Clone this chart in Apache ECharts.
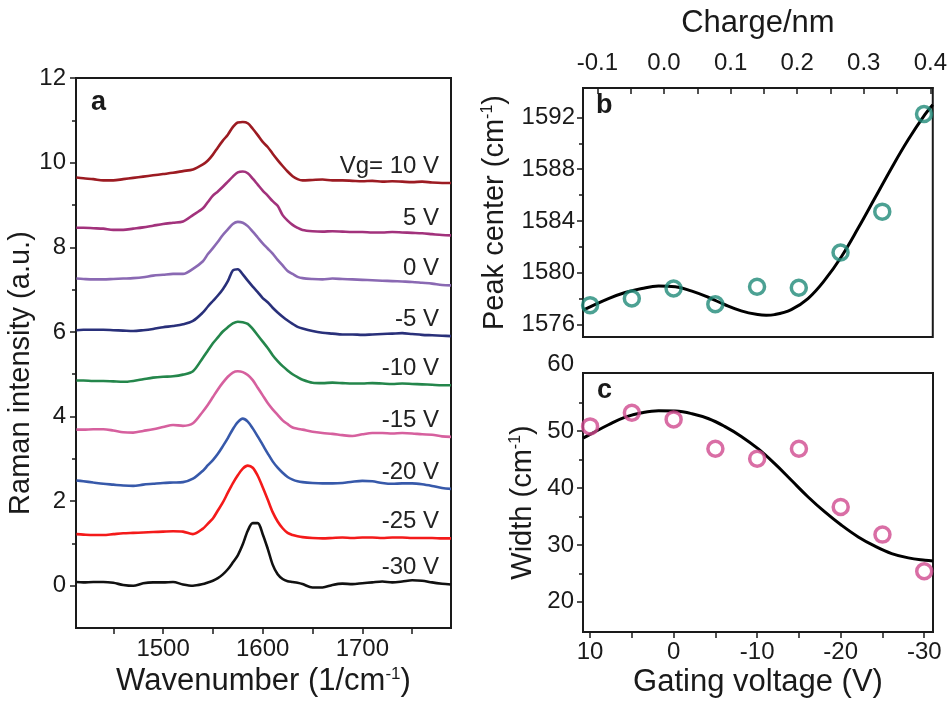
<!DOCTYPE html>
<html><head><meta charset="utf-8">
<script src="https://cdn.jsdelivr.net/npm/echarts@6/dist/echarts.min.js"></script>
<style>html,body{margin:0;padding:0;background:#fff}#main{width:950px;height:702px}</style>
</head><body><div id="main"></div>
<script>
// ---------- DATA ----------
const wavenumber = [1413,1420,1430,1440,1450,1460,1470,1480,1490,1500,1510,1520,1530,
  1540,1545,1550,1555,1560,1565,1570,1575,1580,1585,1590,1595,1600,1605,1610,1615,1620,1625,1630,1635,1640,
  1650,1660,1670,1680,1690,1700,1710,1720,1730,1740,1750,1760,1770,1780,1789];
const specP10 = [9.65,9.63,9.61,9.58,9.58,9.61,9.64,9.67,9.70,9.73,9.76,9.80,9.84,
  9.96,10.05,10.19,10.36,10.52,10.66,10.84,10.95,10.96,10.93,10.80,10.65,10.49,10.37,10.21,10.06,9.92,9.79,9.68,9.61,9.58,
  9.59,9.60,9.58,9.58,9.57,9.56,9.57,9.55,9.56,9.55,9.54,9.55,9.53,9.52,9.52];
const specP5 = [8.46,8.46,8.45,8.44,8.41,8.41,8.44,8.47,8.51,8.55,8.58,8.61,8.76,
  8.92,9.07,9.22,9.32,9.43,9.55,9.67,9.77,9.79,9.75,9.62,9.48,9.34,9.22,9.09,8.98,8.76,8.63,8.53,8.46,8.41,
  8.38,8.37,8.38,8.37,8.36,8.36,8.35,8.35,8.36,8.35,8.34,8.33,8.31,8.29,8.28];
const spec0 = [7.26,7.25,7.24,7.24,7.25,7.26,7.27,7.29,7.33,7.35,7.37,7.37,7.49,
  7.67,7.84,7.98,8.13,8.29,8.42,8.55,8.60,8.58,8.50,8.37,8.23,8.09,7.97,7.85,7.70,7.57,7.44,7.37,7.30,7.27,
  7.25,7.24,7.26,7.25,7.24,7.23,7.22,7.21,7.20,7.19,7.18,7.16,7.14,7.11,7.10];
const specM5 = [6.04,6.05,6.05,6.05,6.04,6.03,6.02,6.04,6.07,6.11,6.14,6.18,6.26,
  6.46,6.60,6.73,6.86,7.01,7.20,7.45,7.48,7.36,7.21,7.07,6.94,6.80,6.70,6.57,6.46,6.36,6.27,6.19,6.12,6.08,
  6.02,5.98,5.96,5.94,5.94,5.93,5.94,5.95,5.96,5.97,5.95,5.93,5.92,5.91,5.90];
const specM10 = [4.85,4.85,4.84,4.84,4.83,4.82,4.84,4.88,4.92,4.94,4.95,4.99,5.07,
  5.39,5.56,5.73,5.87,6.01,6.11,6.20,6.24,6.23,6.19,6.07,5.92,5.77,5.62,5.45,5.31,5.19,5.09,5.00,4.93,4.87,
  4.80,4.79,4.80,4.79,4.78,4.78,4.79,4.78,4.77,4.78,4.77,4.76,4.75,4.74,4.74];
const specM15 = [3.69,3.69,3.70,3.70,3.67,3.63,3.62,3.66,3.70,3.75,3.80,3.78,3.84,
  4.12,4.28,4.46,4.64,4.80,4.94,5.04,5.07,5.05,4.98,4.86,4.68,4.50,4.32,4.17,4.04,3.91,3.82,3.74,3.71,3.69,
  3.64,3.61,3.59,3.56,3.54,3.58,3.61,3.61,3.60,3.61,3.60,3.58,3.57,3.53,3.52];
const specM20 = [2.49,2.47,2.44,2.41,2.39,2.37,2.36,2.39,2.41,2.43,2.44,2.45,2.53,
  2.72,2.85,2.97,3.12,3.30,3.49,3.70,3.87,3.95,3.88,3.72,3.53,3.33,3.13,2.94,2.79,2.67,2.57,2.51,2.47,2.45,
  2.43,2.42,2.42,2.43,2.46,2.48,2.47,2.43,2.41,2.42,2.42,2.40,2.36,2.31,2.29];
const specM25 = [1.22,1.21,1.20,1.20,1.22,1.24,1.25,1.26,1.27,1.28,1.29,1.28,1.22,
  1.35,1.47,1.59,1.78,1.97,2.20,2.42,2.61,2.77,2.84,2.79,2.60,2.33,2.04,1.74,1.52,1.36,1.25,1.20,1.17,1.15,
  1.13,1.12,1.13,1.14,1.13,1.14,1.14,1.13,1.14,1.14,1.13,1.13,1.13,1.12,1.12];
const specM30 = [0.09,0.08,0.09,0.09,0.07,0.02,0.00,0.06,0.08,0.08,0.09,0.03,0.00,
  0.04,0.08,0.12,0.18,0.27,0.39,0.55,0.72,0.98,1.30,1.48,1.48,1.22,0.88,0.50,0.27,0.16,0.11,0.09,0.07,0.04,
  -0.04,-0.04,0.02,0.05,0.04,0.06,0.08,0.10,0.08,0.10,0.13,0.12,0.08,0.05,0.03];
const spectraLabels = ['Vg= 10 V','5 V','0 V','-5 V','-10 V','-15 V','-20 V','-25 V','-30 V'];

const gateVoltage = [10,5,0,-5,-10,-15,-20,-25,-30];
const peakCenter = [1577.50,1578.01,1578.79,1577.57,1578.92,1578.84,1581.57,1584.72,1592.26];
const peakWidth = [50.82,53.22,52.05,46.90,45.15,46.90,36.67,31.81,25.38];

const fitVoltageB = [10.85,10,7.8,5.8,3.8,1.8,-0.2,-2.2,-4.2,-6.1,-8.1,-10.1,-11.1,-12.1,-14.1,-16.1,-18.1,-20.1,-22.1,-24.1,-26.1,-28.1,-30.1,-31.05];
const fitPeakB = [1577.11,1577.37,1578.01,1578.48,1578.79,1578.97,1578.92,1578.58,1578.09,1577.55,1577.06,1576.77,1576.72,1576.77,1577.16,1578.01,1579.43,1581.24,1583.43,1585.75,1588.08,1590.27,1592.21,1592.98];
const fitVoltageC = [10.85,10,7.8,5.8,3.8,1.8,-0.2,-2.2,-4.2,-6.1,-8.1,-10.1,-12.1,-14.1,-16.1,-18.1,-20.1,-22.1,-24.1,-26.1,-28.1,-30.1,-31.05];
const fitWidthC = [48.77,49.42,51.11,52.46,53.22,53.57,53.51,53.04,52.16,50.82,49.06,46.90,44.27,41.35,38.42,35.79,33.45,31.40,29.77,28.48,27.72,27.31,27.19];

const wnTicks = [1500,1600,1700];
const intensityTicks = [0,2,4,6,8,10,12];
const chargeTicks = [-0.1,0.0,0.1,0.2,0.3,0.4];
const peakTicks = [1576,1580,1584,1588,1592];
const widthTicks = [20,30,40,50,60];
const voltageTicks = [10,0,-10,-20,-30];

// ---------- STYLE ----------
const FONT = '"Liberation Sans", Arial, Helvetica, sans-serif';
const INK = '#1a1a1a';
const spectraColors = ['#9c1b22','#a2327c','#8a69b3','#29307a','#24864b','#d6609e','#3759aa','#f41a1a','#111111'];
const spectra = [specP10,specP5,spec0,specM5,specM10,specM15,specM20,specM25,specM30];

function steps(a, b, s) { const r = []; for (let v = a; v <= b + 1e-9; v += s) r.push(+v.toFixed(6)); return r; }
const plain = v => String(v);
const tickStyle = { color: INK, width: 1.5 };
const labelStyle = { fontSize: 24, color: INK, fontFamily: FONT };
function nameStyle(size, extra) {
  return Object.assign({ fontSize: size, color: INK, fontFamily: FONT,
    rich: { sup: { fontSize: Math.round(size * 0.55), color: INK, fontFamily: FONT, verticalAlign: 'top', padding: [0, 0, 10, 0] } } }, extra || {});
}

function mainAxis(o) {
  return Object.assign({
    type: 'value', splitLine: { show: false },
    axisLine: { show: true, onZero: false, lineStyle: { color: INK, width: 2 } },
    axisTick: { show: true, inside: false, length: 6, lineStyle: tickStyle },
    axisLabel: Object.assign({ margin: 9 }, labelStyle),
    nameLocation: 'middle', nameTextStyle: nameStyle(29)
  }, o);
}
function minorAxis(o, ticks) {
  return Object.assign({
    type: 'value', position: 'left', offset: 0, splitLine: { show: false },
    axisLine: { show: false, onZero: false }, axisLabel: { show: false },
    axisTick: { show: true, inside: false, length: 4, customValues: ticks, lineStyle: tickStyle }
  }, o);
}

const A = { min: 1412.6, max: 1789, ymin: -1, ymax: 12 };
const VB = { min: -31.05, max: 10.85 };

const option = {
  animation: false,
  backgroundColor: '#fff',
  grid: [
    { left: 76, top: 78, width: 375, height: 557, show: true, borderColor: INK, borderWidth: 2 },
    { left: 583, top: 88, width: 350, height: 249, show: true, borderColor: INK, borderWidth: 2 },
    { left: 583, top: 373, width: 350, height: 259, show: true, borderColor: INK, borderWidth: 2 }
  ],
  xAxis: [
    mainAxis({ gridIndex: 0, min: A.min, max: A.max,
      axisTick: { show: true, length: 6, customValues: steps(1450, 1750, 50), lineStyle: tickStyle },
      axisLabel: Object.assign({ margin: 9, customValues: wnTicks, formatter: plain }, labelStyle),
      name: 'Wavenumber (1/cm{sup|-1})', nameGap: 31, nameTextStyle: nameStyle(31) }),
    { gridIndex: 1, type: 'value', min: VB.min, max: VB.max, inverse: true, show: false },
    mainAxis({ gridIndex: 1, position: 'top', min: -0.1217, max: 0.4037,
      axisTick: { show: true, inside: true, length: 6, customValues: steps(-0.1, 0.4, 0.05), lineStyle: tickStyle },
      axisLabel: Object.assign({ margin: 13, customValues: chargeTicks, formatter: v => Number(v).toFixed(1) }, labelStyle),
      name: 'Charge/nm', nameGap: 49, nameTextStyle: nameStyle(31) }),
    mainAxis({ gridIndex: 2, min: VB.min, max: VB.max, inverse: true,
      axisTick: { show: true, length: 6, customValues: steps(-30, 10, 5), lineStyle: tickStyle },
      axisLabel: Object.assign({ margin: 8, customValues: voltageTicks, formatter: plain }, labelStyle),
      name: 'Gating voltage (V)', nameGap: 35, nameTextStyle: nameStyle(31) })
  ],
  yAxis: [
    mainAxis({ gridIndex: 0, min: A.ymin, max: A.ymax,
      axisTick: { show: true, length: 6, customValues: intensityTicks, lineStyle: tickStyle },
      axisLabel: Object.assign({ margin: 10, customValues: intensityTicks, formatter: plain }, labelStyle),
      name: 'Raman intensity (a.u.)', nameGap: 30, nameTextStyle: nameStyle(29, { padding: [0, 40, 0, 0] }) }),
    minorAxis({ gridIndex: 0, min: A.ymin, max: A.ymax }, steps(1, 11, 2)),
    mainAxis({ gridIndex: 1, min: 1575.04, max: 1594.27,
      axisTick: { show: true, length: 6, customValues: peakTicks, lineStyle: tickStyle },
      axisLabel: Object.assign({ margin: 8, customValues: peakTicks, formatter: plain }, labelStyle),
      name: 'Peak center (cm{sup|-1})', nameGap: 74 }),
    minorAxis({ gridIndex: 1, min: 1575.04, max: 1594.27 }, steps(1578, 1590, 4)),
    mainAxis({ gridIndex: 2, min: 14.7, max: 60.2,
      axisTick: { show: true, length: 6, customValues: [20,30,40,50], lineStyle: tickStyle },
      axisLabel: Object.assign({ margin: 9, customValues: widthTicks,
        formatter: v => (v === 60 ? '{up|60}' : String(v)),
        rich: { up: { fontSize: 24, color: INK, fontFamily: FONT, padding: [0, 0, 20, 0] } } }, labelStyle),
      name: 'Width (cm{sup|-1})', nameGap: 46 }),
    minorAxis({ gridIndex: 2, min: 14.7, max: 60.2 }, steps(25, 55, 10))
  ],
  series: []
};

spectra.forEach((arr, i) => {
  option.series.push({
    type: 'line', xAxisIndex: 0, yAxisIndex: 0, showSymbol: false, silent: true, smooth: 0.3,
    lineStyle: { color: spectraColors[i], width: 2.6 },
    data: wavenumber.map((w, k) => [w, arr[k]]), z: 2 + i
  });
});
option.series.push(
  { type: 'line', xAxisIndex: 1, yAxisIndex: 2, showSymbol: false, smooth: 0.4,
    lineStyle: { color: '#000', width: 3 }, data: fitVoltageB.map((v, k) => [v, fitPeakB[k]]) },
  { type: 'scatter', xAxisIndex: 1, yAxisIndex: 2, symbol: 'circle', symbolSize: 15,
    itemStyle: { color: 'rgba(0,0,0,0)', borderColor: '#1f8a78', borderWidth: 3.5 },
    data: gateVoltage.map((v, k) => [v, peakCenter[k]]), z: 5 },
  { type: 'line', xAxisIndex: 3, yAxisIndex: 4, showSymbol: false, smooth: 0.4,
    lineStyle: { color: '#000', width: 3 }, data: fitVoltageC.map((v, k) => [v, fitWidthC[k]]) },
  { type: 'scatter', xAxisIndex: 3, yAxisIndex: 4, symbol: 'circle', symbolSize: 15,
    itemStyle: { color: 'rgba(0,0,0,0)', borderColor: '#cf4a8e', borderWidth: 3.5 },
    data: gateVoltage.map((v, k) => [v, peakWidth[k]]), z: 5 }
);

const chart = echarts.init(document.getElementById('main'), null, { renderer: 'canvas' });
chart.setOption(option);

// text annotations
const graphics = [
  { type: 'text', left: 91, top: 89, style: { text: 'a', fontSize: 27, fontWeight: 'bold', fill: INK, fontFamily: FONT } },
  { type: 'text', left: 596, top: 92, style: { text: 'b', fontSize: 27, fontWeight: 'bold', fill: INK, fontFamily: FONT } },
  { type: 'text', left: 597, top: 377, style: { text: 'c', fontSize: 27, fontWeight: 'bold', fill: INK, fontFamily: FONT } }
];
spectra.forEach((arr, i) => {
  const p = chart.convertToPixel({ xAxisIndex: 0, yAxisIndex: 0 }, [1777, arr[arr.length - 1] + 0.4]);
  graphics.push({ type: 'text', x: p[0], y: p[1], z: 20,
    style: { text: spectraLabels[i], fontSize: 24, fill: '#222', fontFamily: FONT, align: 'right', verticalAlign: 'middle' } });
});
chart.setOption({ graphic: graphics });
</script></body></html>
